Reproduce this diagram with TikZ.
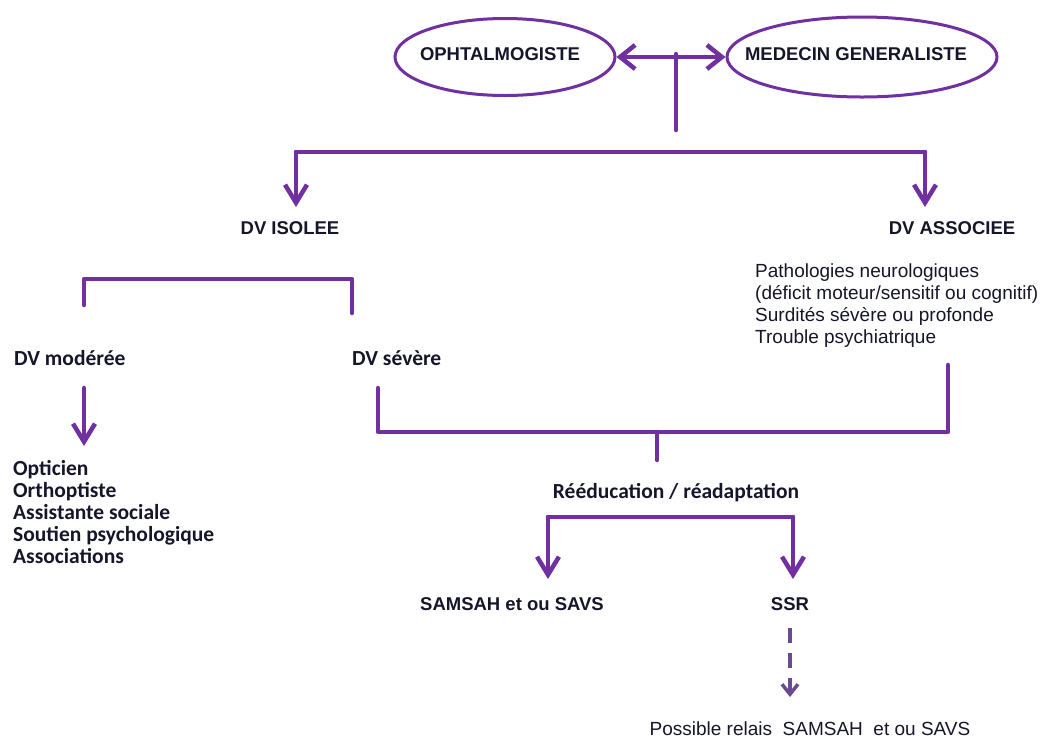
\documentclass[tikz,border=0pt]{standalone}
\usepackage{fontspec}
\setmainfont{Liberation Sans}
\newfontfamily\calfont{Carlito}
\usetikzlibrary{arrows.meta,shapes.geometric}
\definecolor{vio}{HTML}{7030A0}
\definecolor{viodash}{HTML}{6A4A92}
\definecolor{ink}{HTML}{16162A}
\tikzset{
  link/.style={draw=vio,line width=4.5pt,line cap=round,line join=round},
  tipA/.tip={Straight Barb[length=18pt,width=22pt,line width=4.5pt]},
  arr/.style={link,-tipA},
  darr/.style={draw=viodash,line width=3.5pt,dash pattern=on 15pt off 10pt,-{Straight Barb[length=10pt,width=16pt,line width=3.5pt]}},
  oval/.style={ellipse,draw=vio,line width=3pt,fill=white,minimum width=220pt,minimum height=77pt,inner sep=0pt},
  caps/.style={text=ink,font=\fontsize{18.5}{22}\selectfont\bfseries,inner sep=0pt},
  plain/.style={text=ink,font=\fontsize{19}{21.7}\selectfont,inner sep=0pt,align=left},
  cal/.style={text=ink,font=\fontsize{21.5}{22}\selectfont\calfont\bfseries,inner sep=0pt,align=left},
}
\begin{document}
\begin{tikzpicture}[x=1pt,y=-1pt]
\useasboundingbox[fill=white] (0,0) rectangle (1041,740);
% top ellipses
\node[oval] (oph) at (505,57) {};
\node[caps] at (500,54) (ophT) {OPHTALMOGISTE};
\node[oval,minimum width=270pt,minimum height=80pt] (med) at (862,57) {};
\node[caps] at (856,54) (medT) {MEDECIN GENERALISTE};
\coordinate (jtop) at (676,54);
\coordinate (jtopd) at (676,130);
\draw[link,{Straight Barb[length=15pt,width=24pt,line width=4.5pt]}-{Straight Barb[length=15pt,width=24pt,line width=4.5pt]}] (oph.east) -- (med.west);
\draw[link] (jtop) -- (jtopd);
% first split
\coordinate (b1l) at (296,152);
\coordinate (b1r) at (925,152);
\node[caps] (isolee) at (290,228) {DV ISOLEE};
\node[caps] (assoc) at (952,228) {DV ASSOCIEE};
\coordinate (isoleeTip) at (296,207);
\coordinate (assocTip) at (925,207);
\draw[link] (b1l) -- (b1r);
\draw[arr] (b1l) -- (isoleeTip);
\draw[arr] (b1r) -- (assocTip);
% associated pathologies
\node[plain,anchor=north west] (patho) at (755,264) {Pathologies neurologiques\\(déficit moteur/sensitif ou cognitif)\\Surdités sévère ou profonde\\Trouble psychiatrique};
% left bracket
\coordinate (b2l) at (84,279);
\coordinate (b2r) at (352,279);
\coordinate (b2ld) at (84,305);
\coordinate (b2rd) at (352,313);
\draw[link] (b2ld) -- (b2l) -- (b2r) -- (b2rd);
\node[cal,anchor=west] (mod) at (14,358) {DV modérée};
\node[cal,anchor=west] (sev) at (352,358) {DV sévère};
\coordinate (modA) at (84,388);
\coordinate (modB) at (84,446);
\draw[arr] (modA) -- (modB);
\node[cal,anchor=north west] (list) at (13,460) {Opticien\\Orthoptiste\\Assistante sociale\\Soutien psychologique\\Associations};
% right bracket
\coordinate (sevD) at (378,388);
\coordinate (sevC) at (378,432);
\coordinate (asC) at (948,432);
\coordinate (asD) at (948,365);
\coordinate (j3) at (657,432);
\coordinate (j3d) at (657,460);
\draw[link] (sevD) -- (sevC) -- (asC) -- (asD);
\draw[link] (j3) -- (j3d);
\node[cal] (reed) at (676,493) {Rééducation / réadaptation};
% bottom split
\coordinate (b4l) at (548,517);
\coordinate (b4r) at (793,517);
\coordinate (samTip) at (548,579);
\coordinate (ssrTip) at (793,579);
\draw[link] (b4l) -- (b4r);
\draw[arr] (b4l) -- (samTip);
\draw[arr] (b4r) -- (ssrTip);
\node[caps] (sam) at (512,604) {SAMSAH et ou SAVS};
\node[caps] (ssr) at (790,604) {SSR};
\coordinate (relTip) at (790,697);
\draw[darr] (ssr.south) ++(0,17) -- (relTip);
\node[plain] (relais) at (810,729) {Possible relais\ \ SAMSAH\ \ et ou SAVS};
\end{tikzpicture}
\end{document}
